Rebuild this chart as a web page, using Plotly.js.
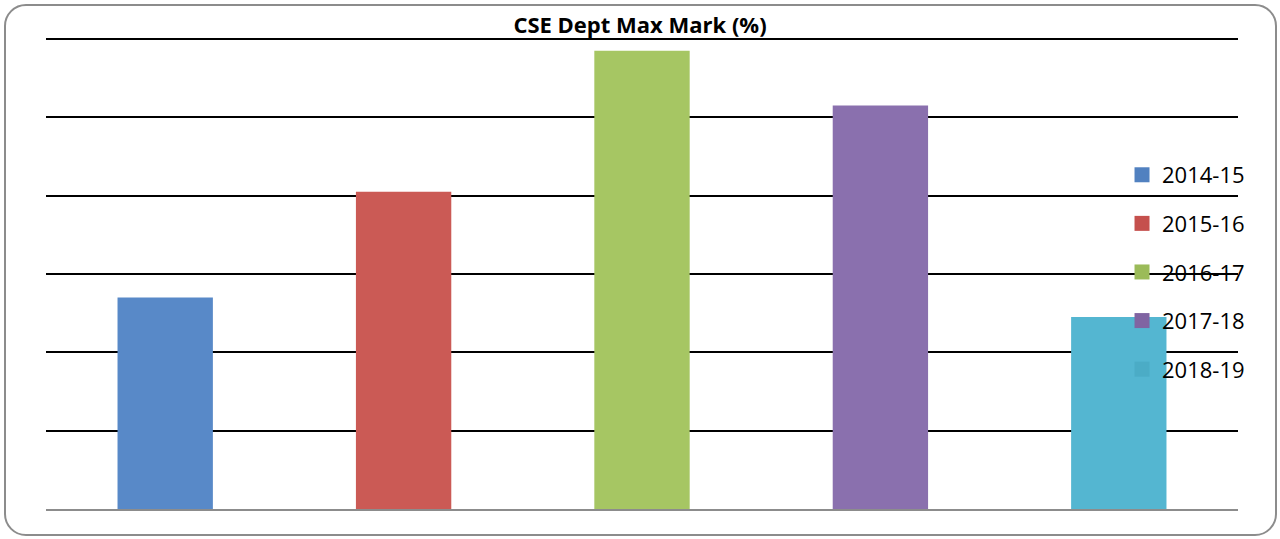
<!DOCTYPE html>
<html>
<head>
<meta charset="utf-8">
<script src="https://cdn.plot.ly/plotly-3.0.1.min.js"></script>
<style>
  html, body { margin: 0; padding: 0; background: #fff; }
  #wrap { position: relative; width: 1280px; height: 539px; }
  #chart { position: absolute; left: 0; top: 0; width: 1280px; height: 539px; }
  #frame { position: absolute; left: 4px; top: 4px; width: 1269px; height: 528px;
           border: 2px solid #8c8c8c; border-radius: 22px; pointer-events: none; }
</style>
</head>
<body>
<div id="wrap">
  <div id="chart"></div>
  <div id="frame"></div>
</div>
<script>
const categories = ["2014-15", "2015-16", "2016-17", "2017-18", "2018-19"];
const maxMark = [85.4, 88.1, 91.7, 90.3, 84.9];
const barColors = ["#5889c8", "#cb5a55", "#a6c663", "#8a70ae", "#54b6d1"];
const legendColors = ["#5181c0", "#c5504d", "#9bbb59", "#8064a2", "#4bacc6"];

const traces = categories.map((c, i) => ({
  type: "bar",
  name: c,
  x: [c],
  y: [maxMark[i]],
  width: 0.4,
  marker: { color: barColors[i] },
  legendgroup: "g" + i,
  hoverinfo: "x+y"
}));

const layout = {
  width: 1280,
  height: 539,
  margin: { l: 46, r: 42, t: 35, b: 30 },
  paper_bgcolor: "rgba(0,0,0,0)",
  plot_bgcolor: "rgba(0,0,0,0)",
  title: {
    text: "<b>CSE Dept Max Mark (%)</b>",
    font: { family: "Open Sans, Noto Sans, sans-serif", size: 22, color: "#000" },
    x: 0.5, xanchor: "center", y: 0.953, yanchor: "middle"
  },
  barmode: "overlay",
  xaxis: {
    type: "category",
    categoryorder: "array",
    categoryarray: categories,
    showticklabels: false,
    ticks: "",
    showgrid: false,
    showline: true,
    linecolor: "#8c8c8c",
    linewidth: 2
  },
  yaxis: {
    range: [80, 92.1],
    dtick: 2,
    tick0: 80,
    showticklabels: false,
    ticks: "",
    showgrid: true,
    gridcolor: "#000",
    gridwidth: 2,
    zeroline: false,
    showline: false
  },
  showlegend: true,
  legend: {
    x: 0.9027, xanchor: "left",
    y: 0.749, yanchor: "top",
    bgcolor: "rgba(0,0,0,0)",
    font: { family: "Open Sans, Noto Sans, sans-serif", size: 22, color: "#000" },
    tracegroupgap: 17,
    itemwidth: 30,
    traceorder: "grouped"
  }
};

Plotly.newPlot("chart", traces, layout, { displayModeBar: false, staticPlot: true }).then((gd) => {
  // enlarge legend swatches to square boxes with the legend tones
  const items = gd.querySelectorAll(".legend .traces");
  items.forEach((it, i) => {
    it.querySelectorAll(".legendpoints path").forEach(p => {
      p.setAttribute("d", "M-7.5,-7.5H7.5V7.5H-7.5Z");
      p.style.fill = legendColors[i];
      p.style.stroke = "none";
    });
  });
});
</script>
</body>
</html>
